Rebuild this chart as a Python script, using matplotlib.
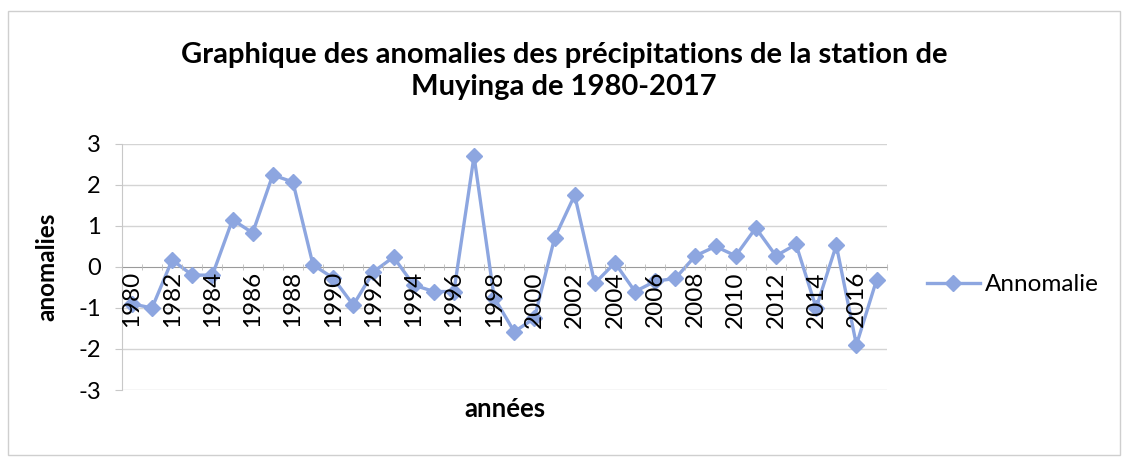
import matplotlib
matplotlib.use("Agg")
import matplotlib.pyplot as plt
from matplotlib.patches import Rectangle

# donnees
annees = list(range(1980, 2018))
anomalie = [-0.9, -1.0, 0.17, -0.2, -0.2, 1.15, 0.83, 2.24, 2.07, 0.05,
            -0.27, -0.93, -0.12, 0.24, -0.44, -0.6, -0.6, 2.7, -0.75, -1.58,
            -1.25, 0.7, 1.75, -0.4, 0.1, -0.6, -0.35, -0.28, 0.27, 0.5,
            0.27, 0.95, 0.27, 0.55, -1.0, 0.53, -1.9, -0.32]
etiquettes = [str(a) for a in annees[::2]]
graduations_y = [-3, -2, -1, 0, 1, 2, 3]

plt.rcParams['font.family'] = ['Lato', 'DejaVu Sans']
bleu = '#8DA6E0'

fig = plt.figure(figsize=(11.28, 4.61), dpi=100)
ax = fig.add_axes([0.108, 0.154, 0.678, 0.534])

x = list(range(len(annees)))
ax.plot(x, anomalie, color=bleu, lw=2.4, marker='D', ms=8, zorder=2,
        markerfacecolor=bleu, markeredgecolor=bleu, label='Annomalie')

# quadrillage sous la courbe
for v in graduations_y:
    if v != 0:
        ax.axhline(v, color='#d4d4d4', lw=1, zorder=0.5)

ax.set_xlim(-0.5, len(annees) - 0.5)
ax.set_ylim(-3, 3)
ax.set_yticks(graduations_y)
ax.set_yticklabels([str(v) for v in graduations_y], fontsize=17)

# axe des categories qui passe par zero, etiquettes par-dessus la courbe
for s in ['top', 'right']:
    ax.spines[s].set_visible(False)
ax.spines['bottom'].set_position(('data', 0))
ax.spines['bottom'].set_color('#9a9a9a')
ax.spines['bottom'].set_zorder(1)
ax.spines['left'].set_color('#c8c8c8')
ax.xaxis.set_zorder(3)
ax.set_xticks(x[::2])
ax.set_xticklabels(etiquettes, rotation=90, fontsize=17.5, va='top')
ax.set_xticks([i - 0.5 for i in x] + [len(x) - 0.5], minor=True)
ax.tick_params(axis='x', which='major', length=0, pad=3)
ax.tick_params(axis='x', which='minor', length=4, direction='inout', color='#bbbbbb')
ax.tick_params(axis='y', length=5, color='#c8c8c8', pad=10)

ax.set_ylabel('anomalies', fontsize=17.5, fontweight='bold', labelpad=14)
fig.text(0.448, 0.095, 'années', fontsize=18.5, fontweight='bold', ha='center')

fig.text(0.5, 0.846, 'Graphique des anomalies des précipitations de la station de\nMuyinga de 1980-2017',
         ha='center', va='center', fontsize=21, fontweight='bold', linespacing=1.3)

fig.legend(loc='center left', bbox_to_anchor=(0.802, 0.382), frameon=False,
           fontsize=17.5, handlelength=2.2, handletextpad=0.2)

fig.add_artist(Rectangle((0.007, 0.012), 0.986, 0.965, transform=fig.transFigure,
                         fill=False, edgecolor='#cfcfcf', lw=1))

fig.savefig('out.png', dpi=100)
